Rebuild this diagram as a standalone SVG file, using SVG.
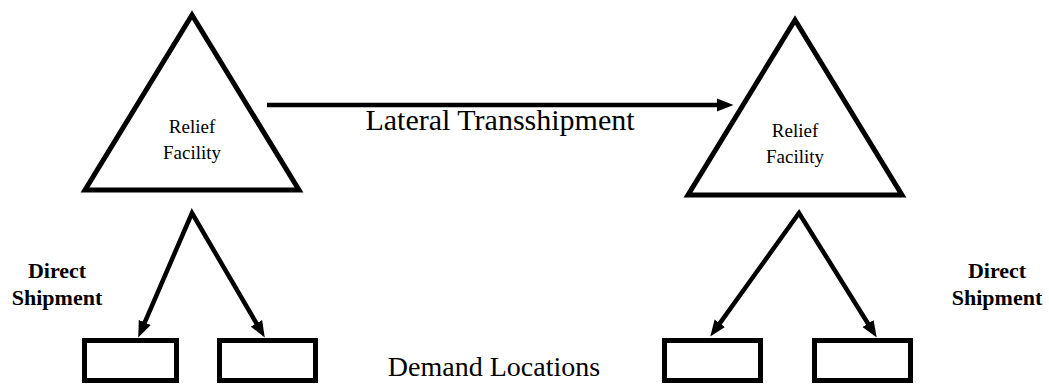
<svg xmlns="http://www.w3.org/2000/svg" width="1049" height="385" viewBox="0 0 1049 385">
  <style>
    .shape { fill: #ffffff; stroke: #000000; stroke-width: 5; stroke-linejoin: miter; stroke-miterlimit: 10; }
    .conn { fill: none; stroke: #000000; stroke-width: 4.5; stroke-linejoin: miter; stroke-miterlimit: 10; }
    .node-label { font-family: "Liberation Serif", "Times New Roman", serif; font-size: 19px; fill: #000; text-anchor: middle; }
    .big-label { font-family: "Liberation Serif", "Times New Roman", serif; font-size: 30px; fill: #000; text-anchor: middle; }
    .bold-label { font-family: "Liberation Serif", "Times New Roman", serif; font-size: 22px; font-weight: bold; fill: #000; text-anchor: middle; }
  </style>
  <defs>
    <marker id="arrow" markerUnits="userSpaceOnUse" markerWidth="17" markerHeight="14" viewBox="0 0 17 14" refX="7" refY="7" orient="auto-start-reverse">
      <path d="M0,0.5 L16.5,7 L0,13.5 z" fill="#000"/>
    </marker>
  </defs>
  <rect width="1049" height="385" fill="#ffffff"/>

  <g id="facility-left">
    <polygon class="shape" points="192,15 85,190 299,190"/>
    <text class="node-label" x="192" y="133">Relief</text>
    <text class="node-label" x="192" y="159">Facility</text>
  </g>
  <g id="facility-right">
    <polygon class="shape" points="795,20 688,195 902,195"/>
    <text class="node-label" x="795" y="137">Relief</text>
    <text class="node-label" x="795" y="163">Facility</text>
  </g>

  <g id="demand-left-1"><rect class="shape" x="84.5" y="340.5" width="92" height="40"/></g>
  <g id="demand-left-2"><rect class="shape" x="219.5" y="340.5" width="96" height="40"/></g>
  <g id="demand-right-1"><rect class="shape" x="664.5" y="340.5" width="96" height="40"/></g>
  <g id="demand-right-2"><rect class="shape" x="814.5" y="340.5" width="96" height="40"/></g>

  <g id="connectors">
    <path class="conn" d="M267,105 L724,105" marker-end="url(#arrow)"/>
    <path class="conn" d="M142,328.8 L192,213 L260,329.4" marker-start="url(#arrow)" marker-end="url(#arrow)"/>
    <path class="conn" d="M715.8,328.9 L799,213 L871.7,329.5" marker-start="url(#arrow)" marker-end="url(#arrow)"/>
  </g>

  <g id="labels">
    <text class="big-label" x="500" y="130">Lateral Transshipment</text>
    <text class="big-label" x="494" y="376" style="font-size:28px">Demand Locations</text>
    <text class="bold-label" x="57" y="278">Direct</text>
    <text class="bold-label" x="57" y="305">Shipment</text>
    <text class="bold-label" x="997" y="278">Direct</text>
    <text class="bold-label" x="997" y="305">Shipment</text>
  </g>
</svg>
